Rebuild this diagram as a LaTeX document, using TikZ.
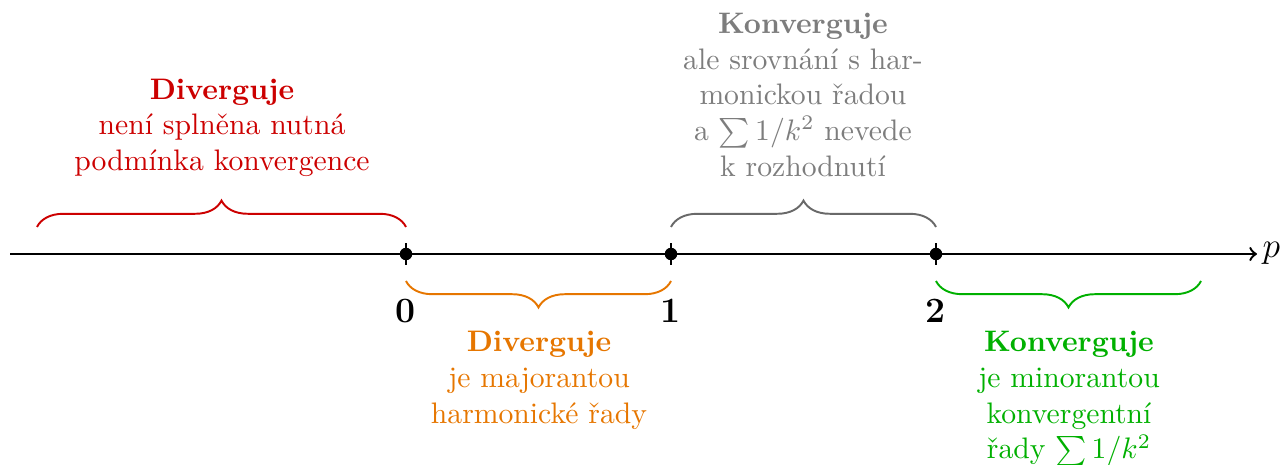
\documentclass[tikz,border=0pt]{standalone}
\usepackage{fontspec}
\usetikzlibrary{decorations.pathreplacing}
\definecolor{divred}{RGB}{204,0,0}
\definecolor{divorange}{RGB}{230,118,0}
\definecolor{convgreen}{RGB}{0,176,0}
\definecolor{convgray}{RGB}{125,125,125}
\definecolor{bracegray}{RGB}{105,105,105}
\begin{document}
\begin{tikzpicture}[x=0.337pt,y=-0.337pt,
  axisline/.style={line width=0.8pt,->},
  tickline/.style={line width=0.8pt},
  dotmark/.style={circle,fill,inner sep=0pt,minimum size=4.2pt},
  numlabel/.style={font=\large\bfseries,inner sep=0pt},
  bracemark/.style={decorate,decoration={brace,amplitude=8.9pt},line width=0.65pt},
  caption/.style={align=center,inner sep=0pt}]
\useasboundingbox (0,0) rectangle (1284,465);

% number line
\coordinate (axstart) at (10,254);
\coordinate (axend) at (1257,254);
\draw[axisline] (axstart) -- (axend);
\node[font=\large,anchor=base west,inner sep=0pt] (plabel) at (1262,258) {$p$};

% points 0, 1, 2
\foreach \name/\x in {t0/406,t1/671,t2/936}{
  \coordinate (\name) at (\x,254);
  \draw[tickline] ([yshift=-3.7pt]\name) -- ([yshift=3.7pt]\name);
  \node[dotmark] (\name dot) at (\name) {};
}
\node[numlabel] (n0) at (406,311) {0};
\node[numlabel] (n1) at (671,311) {1};
\node[numlabel] (n2) at (936,311) {2};

% braces above the axis
\coordinate (ra) at (37,227);  \coordinate (rb) at (406,227);
\coordinate (ga) at (671,227); \coordinate (gb) at (936,227);
\draw[bracemark,divred] (ra) -- (rb);
\draw[bracemark,bracegray] (ga) -- (gb);

% braces below the axis
\coordinate (oa) at (406,281); \coordinate (ob) at (671,281);
\coordinate (ka) at (936,281); \coordinate (kb) at (1201,281);
\draw[bracemark,divorange] (ob) -- (oa);
\draw[bracemark,convgreen] (kb) -- (ka);

% descriptions
\node[caption,text=divred,anchor=south] (redtxt) at (222,177)
  {\textbf{Diverguje}\\není splněna nutná\\podmínka konvergence};
\node[caption,text=convgray,anchor=south] (graytxt) at (803,177)
  {\textbf{Konverguje}\\ale srovnání s har-\\monickou řadou\\a $\sum 1/k^2$ nevede\\k rozhodnutí};
\node[caption,text=divorange,anchor=north] (orangetxt) at (539,331)
  {\textbf{Diverguje}\\je majorantou\\harmonické řady};
\node[caption,text=convgreen,anchor=north] (greentxt) at (1069,331)
  {\textbf{Konverguje}\\je minorantou\\konvergentní\\řady $\sum 1/k^2$};
\end{tikzpicture}
\end{document}
